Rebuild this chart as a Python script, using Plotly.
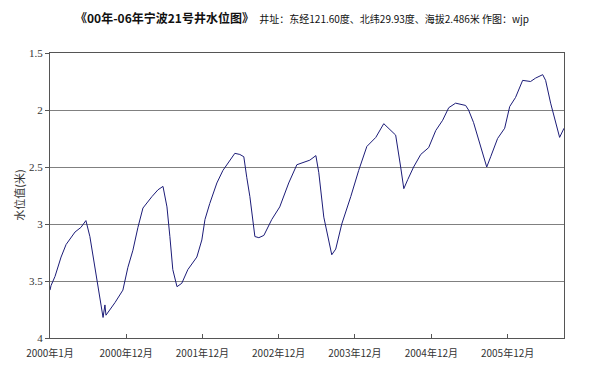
import plotly.graph_objects as go

dates = [
    "2000-01-01", "2000-01-06", "2000-01-25", "2000-02-23", "2000-03-18", "2000-04-30", "2000-05-28",
    "2000-06-21", "2000-07-10", "2000-08-03", "2000-08-27", "2000-09-11", "2000-09-20",
    "2000-09-25", "2000-11-07", "2000-12-15", "2001-01-08", "2001-02-01", "2001-02-25",
    "2001-03-21", "2001-05-03", "2001-06-01", "2001-06-25", "2001-07-14", "2001-07-28",
    "2001-08-11", "2001-08-31", "2001-09-23", "2001-10-22", "2001-12-04", "2001-12-28",
    "2002-01-12", "2002-02-04", "2002-03-10", "2002-04-08", "2002-05-06", "2002-06-04",
    "2002-06-28", "2002-07-17", "2002-07-31", "2002-08-15", "2002-09-08", "2002-09-27",
    "2002-10-21", "2002-11-28", "2003-01-05", "2003-02-17", "2003-03-28", "2003-04-30",
    "2003-05-29", "2003-06-27", "2003-07-11", "2003-08-04", "2003-08-28", "2003-09-11",
    "2003-09-30", "2003-10-29", "2003-12-11", "2004-01-18", "2004-02-26", "2004-04-09",
    "2004-05-17", "2004-06-19", "2004-07-13", "2004-08-06", "2004-08-21", "2004-09-09",
    "2004-10-07", "2004-11-10", "2004-12-18", "2005-01-21", "2005-02-23", "2005-03-24",
    "2005-04-26", "2005-06-13", "2005-06-27", "2005-07-21", "2005-08-10", "2005-08-24",
    "2005-09-12", "2005-09-22", "2005-10-11", "2005-11-13", "2005-12-17", "2006-01-10",
    "2006-02-07", "2006-03-13", "2006-04-20", "2006-05-14", "2006-06-17", "2006-07-01",
    "2006-07-25", "2006-08-18", "2006-09-06", "2006-09-27",
]
levels = [
    3.58, 3.54, 3.46, 3.29, 3.18, 3.07, 3.03,
    2.97, 3.11, 3.38, 3.64, 3.82, 3.71,
    3.80, 3.69, 3.58, 3.38, 3.23, 3.03,
    2.86, 2.76, 2.70, 2.67, 2.85, 3.11,
    3.40, 3.55, 3.52, 3.40, 3.29, 3.14,
    2.96, 2.82, 2.64, 2.53, 2.46, 2.38,
    2.39, 2.41, 2.59, 2.76, 3.11, 3.12,
    3.10, 2.96, 2.85, 2.64, 2.48, 2.46,
    2.44, 2.40, 2.55, 2.94, 3.14, 3.27,
    3.22, 3.00, 2.76, 2.53, 2.32, 2.24,
    2.12, 2.18, 2.22, 2.50, 2.69, 2.61,
    2.50, 2.39, 2.33, 2.18, 2.09, 1.98,
    1.94, 1.96, 2.00, 2.11, 2.24, 2.33,
    2.44, 2.50, 2.41, 2.25, 2.16, 1.97,
    1.89, 1.74, 1.75, 1.72, 1.69, 1.74,
    1.94, 2.11, 2.24, 2.16,
]

tick_dates = ["2000-01-01", "2000-12-31", "2001-12-31", "2002-12-31", "2003-12-31", "2004-12-31", "2005-12-31"]
tick_labels = ["2000年1月", "2000年12月", "2001年12月", "2002年12月", "2003年12月", "2004年12月", "2005年12月"]
y_ticks = [1.5, 2, 2.5, 3, 3.5, 4]
y_tick_labels = ["1.5", "2", "2.5", "3", "3.5", "4"]

title_main = "《00年-06年宁波21号井水位图》"
title_sub = "井址：东经121.60度、北纬29.93度、海拔2.486米 作图：wjp"
y_title = "水位值(米)"

cjk = "Noto Sans CJK SC, DejaVu Sans, sans-serif"

fig = go.Figure()
fig.add_trace(go.Scatter(
    x=dates, y=levels, mode="lines",
    line=dict(color="#1c1c78", width=1),
    showlegend=False, hoverinfo="skip",
))

# the page body has an 8px margin, so the figure is sized to fit the window
fig.update_layout(
    width=592, height=360,
    margin=dict(l=42, r=36, t=45, b=30),
    paper_bgcolor="white", plot_bgcolor="white",
    font=dict(family=cjk, size=10, color="#333"),
    annotations=[
        dict(
            text=f"<b>{title_main}</b>  <span style='font-size:10px'>{title_sub}</span>",
            xref="paper", yref="paper", x=0.045, y=1, yshift=36,
            xanchor="left", yanchor="middle", showarrow=False,
            font=dict(family=cjk, size=12, color="#111"),
        ),
        dict(
            text=y_title, textangle=-90,
            xref="paper", yref="paper", x=-0.062, y=0.5,
            xanchor="center", yanchor="middle", showarrow=False,
            font=dict(family=cjk, size=11, color="#333"),
        ),
    ],
)

fig.update_xaxes(
    type="date", automargin=False,
    range=["2000-01-01", "2006-09-27"],
    tickvals=tick_dates, ticktext=tick_labels,
    showgrid=False, zeroline=False,
    showline=True, linecolor="#555", linewidth=1, mirror=True,
    ticks="inside", ticklen=4, tickcolor="#555",
    ticklabelstandoff=6,
    tickfont=dict(family=cjk, size=10, color="#333"),
)
fig.update_yaxes(
    automargin=False,
    range=[4, 1.5],
    tickvals=y_ticks, ticktext=y_tick_labels,
    showgrid=True, gridcolor="#808080", gridwidth=1,
    zeroline=False,
    showline=True, linecolor="#555", linewidth=1, mirror=True,
    ticks="outside", ticklen=4, tickcolor="#555",
    tickfont=dict(family="Liberation Serif, DejaVu Serif, serif", size=11, color="#333"),
)

fig.write_html("out.html")
